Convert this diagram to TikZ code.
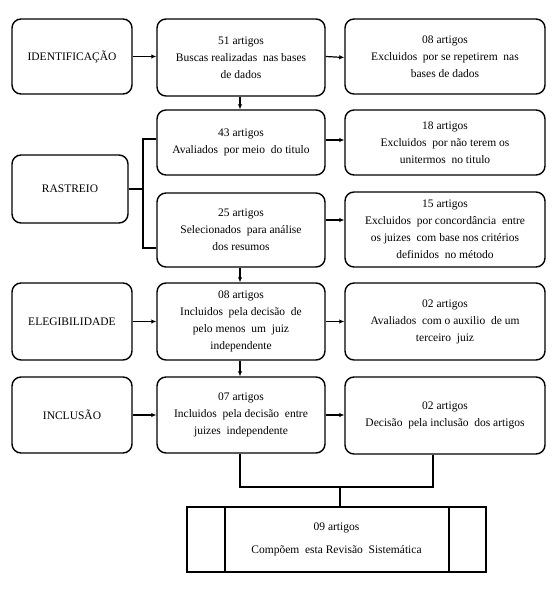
\documentclass[tikz,border=0pt]{standalone}
\usepackage{fontspec}
\setmainfont{Liberation Serif}
\newfontfamily\tnr{Liberation Serif}
\usetikzlibrary{arrows.meta}
\begin{document}
\begin{tikzpicture}[x=1pt,y=-1pt,
  box/.style={draw, rounded corners=9pt, line width=1.4pt, align=center, inner sep=0pt, font=\tnr\fontsize{11.5}{17}\selectfont},
  arr/.style={-{Latex[length=5pt,width=4.5pt]}, line width=1.2pt},
  ln/.style={line width=1.2pt}]
\useasboundingbox[fill=white] (0,0) rectangle (556,591);
% left column
\node[box, minimum width=120pt, minimum height=75pt] (id) at (72,56.5) {IDENTIFICAÇÃO};
\node[box, minimum width=116pt, minimum height=68pt] (ras) at (70,189) {RASTREIO};
\node[box, minimum width=120pt, minimum height=77pt] (ele) at (72,321.5) {ELEGIBILIDADE};
\node[box, minimum width=120pt, minimum height=76pt] (inc) at (72,415) {INCLUSÃO};
% middle column
\node[box, minimum width=168pt, minimum height=77pt] (m1) at (241,57.5) {51 artigos\\Buscas realizadas \ nas bases\\de dados};
\node[box, minimum width=168pt, minimum height=65pt] (m2) at (241,142.5) {43 artigos\\Avaliados \ por meio \ do titulo};
\node[box, minimum width=168pt, minimum height=74pt] (m3) at (241,230) {25 artigos\\Selecionados \ para análise\\dos resumos};
\node[box, minimum width=168pt, minimum height=77pt] (m4) at (241,321.5) {08 artigos\\Incluidos \ pela decisão \ de\\pelo menos \ um \ juiz\\independente};
\node[box, minimum width=168pt, minimum height=76pt] (m5) at (241,415) {07 artigos\\Incluidos \ pela decisão \ entre\\juizes \ independente};
% right column
\node[box, minimum width=200pt, minimum height=75pt] (r1) at (445,56.5) {08 artigos\\Excluidos \ por se repetirem \ nas\\bases de dados};
\node[box, minimum width=200pt, minimum height=65pt] (r2) at (445,142.5) {18 artigos\\Excluidos \ por não terem os\\unitermos \ no titulo};
\node[box, minimum width=200pt, minimum height=75pt] (r3) at (445,229.5) {15 artigos\\Excluidos \ por concordância \ entre\\os juizes \ com base nos critérios\\definidos \ no método};
\node[box, minimum width=200pt, minimum height=77pt] (r4) at (445,321.5) {02 artigos\\Avaliados \ com o auxilio \ de um\\terceiro \ juiz};
\node[box, minimum width=200pt, minimum height=77pt] (r5) at (445,415.5) {02 artigos\\Decisão \ pela inclusão \ dos artigos};
% final box
\node[draw, line width=1.3pt, minimum width=299pt, minimum height=65pt, inner sep=0pt, align=center, font=\tnr\fontsize{11.5}{17}\selectfont] (fin) at (336.5,539.5) {09 artigos\\[6pt]Compõem \ esta Revisão \ Sistemática};
\draw[ln] (fin.north -| 225,0) -- (fin.south -| 225,0);
\draw[ln] (fin.north -| 449,0) -- (fin.south -| 449,0);
% horizontal arrows
\draw[arr] (id.east) -- (id.east -| m1.west);
\draw[arr] (m1.east |- id.east) -- (m1.east -| r1.west);
\draw[arr] (m2.east |- 0,140) -- (r2.west |- 0,140);
\draw[arr] (m3.east |- 0,220) -- (r3.west |- 0,220);
\draw[arr] (ele.east) -- (ele.east -| m4.west);
\draw[arr] (m4.east) -- (r4.west |- m4.east);
\draw[arr] (inc.east) -- (inc.east -| m5.west);
\draw[arr] (m5.east) -- (r5.west |- m5.east);
% vertical arrows
\draw[arr] (m1.south -| 240,0) -- (m2.north -| 240,0);
\draw[arr] (m3.south -| 240,0) -- (m4.north -| 240,0);
\draw[arr] (m4.south -| 240,0) -- (m5.north -| 240,0);
% rastreio bracket
\coordinate (rj) at (143,189);
\draw[ln] (ras.east) -- (rj);
\draw[ln] (m2.west |- 0,139) -| (rj) |- (m3.west |- 0,248);
% bottom joins
\coordinate (bj) at (340,487);
\draw[ln] (m5.south -| 240,0) |- (bj) -| (r5.south -| 433,0);
\draw[ln] (bj) -- (fin.north -| bj);
\end{tikzpicture}
\end{document}
